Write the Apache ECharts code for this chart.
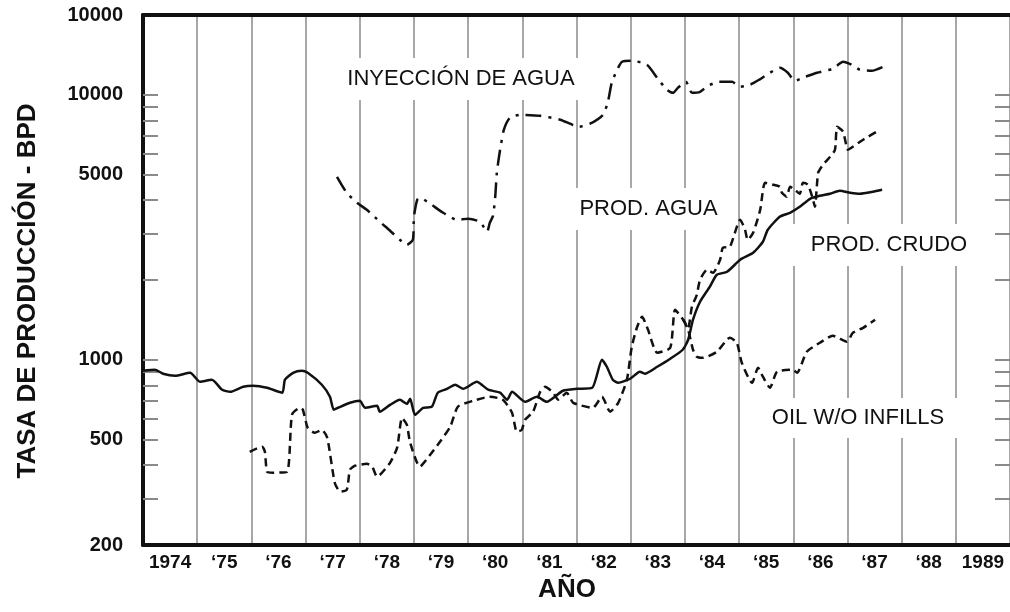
<!DOCTYPE html>
<html>
<head>
<meta charset="utf-8">
<script src="https://cdn.jsdelivr.net/npm/echarts@6/dist/echarts.min.js"></script>
<style>
  html, body { margin: 0; padding: 0; background: #fff; }
  #chart { width: 1010px; height: 612px; }
</style>
</head>
<body>
<div id="chart"></div>
<script>
// años (etiquetas del eje x, una por banda)
const yearLabels = ['1974', '‘75', '‘76', '‘77', '‘78', '‘79', '‘80', '‘81', '‘82', '‘83', '‘84', '‘85', '‘86', '‘87', '‘88', '1989']

// marcas del eje y (escala logaritmica)
const yTickValues = [200, 500, 1000, 5000, 10000, 20000]
const yTickLabels = ['200', '500', '1000', '5000', '10000', '10000']
const yMinorTicks = [300, 400, 500, 600, 700, 800, 900, 1000, 2000, 3000, 4000, 5000, 6000, 7000, 8000, 9000, 10000]

// PROD. CRUDO  [año, BPD]
const crudo = [
    [1974.00, 909], [1974.22, 917], [1974.37, 886], [1974.59, 870], [1974.87, 893],
    [1975.05, 826], [1975.27, 841], [1975.46, 771], [1975.61, 757], [1975.85, 791],
    [1976.03, 798], [1976.29, 784], [1976.57, 751], [1976.62, 841], [1976.77, 893],
    [1976.93, 909], [1977.04, 893], [1977.30, 805], [1977.45, 725], [1977.52, 648],
    [1977.60, 659], [1977.82, 688], [1978.00, 700], [1978.10, 659], [1978.32, 671],
    [1978.37, 637], [1978.56, 676], [1978.74, 707], [1978.87, 682], [1978.93, 713],
    [1979.02, 620], [1979.17, 659], [1979.33, 665], [1979.44, 751], [1979.61, 777],
    [1979.76, 805], [1979.91, 777], [1980.16, 826], [1980.37, 771], [1980.59, 751],
    [1980.72, 707], [1980.81, 757], [1981.05, 694], [1981.27, 725], [1981.45, 694],
    [1981.75, 764], [1982.01, 777], [1982.29, 784], [1982.47, 1000], [1982.56, 941],
    [1982.67, 841], [1982.77, 819], [1982.99, 848], [1983.17, 901], [1983.26, 886],
    [1983.49, 941], [1983.73, 1009], [1983.96, 1091], [1984.06, 1190], [1984.15, 1416],
    [1984.28, 1656], [1984.46, 1886], [1984.59, 2094], [1984.78, 2148], [1985.02, 2384],
    [1985.26, 2534], [1985.44, 2788], [1985.53, 3094], [1985.75, 3464], [1985.94, 3586],
    [1986.12, 3779], [1986.31, 4050], [1986.49, 4157], [1986.68, 4231], [1986.86, 4343],
    [1987.05, 4269], [1987.23, 4231], [1987.47, 4305], [1987.64, 4381]
]

// PROD. AGUA
const agua = [
    [1975.97, 449], [1976.20, 470], [1976.25, 449], [1976.29, 378], [1976.40, 375],
    [1976.66, 378], [1976.75, 620], [1976.90, 659], [1976.95, 648], [1977.04, 554],
    [1977.17, 530], [1977.30, 544], [1977.40, 508], [1977.54, 343], [1977.64, 318],
    [1977.76, 323], [1977.82, 385], [1977.91, 398], [1978.13, 405], [1978.23, 395],
    [1978.32, 362], [1978.56, 409], [1978.69, 466], [1978.78, 604], [1978.87, 568],
    [1978.93, 486], [1979.11, 395], [1979.30, 438], [1979.44, 478], [1979.67, 559],
    [1979.81, 665], [1980.09, 700], [1980.40, 725], [1980.64, 707], [1980.81, 631],
    [1980.90, 535], [1980.99, 544], [1981.05, 594], [1981.20, 637], [1981.33, 757],
    [1981.42, 791], [1981.57, 751], [1981.66, 707], [1981.82, 751], [1981.94, 688],
    [1982.30, 659], [1982.47, 725], [1982.62, 637], [1982.77, 688], [1982.93, 841],
    [1983.02, 1119], [1983.12, 1332], [1983.21, 1453], [1983.32, 1298], [1983.49, 1063],
    [1983.73, 1110], [1983.82, 1544], [1983.97, 1416], [1984.06, 1320], [1984.13, 1585],
    [1984.22, 1759], [1984.28, 2004], [1984.41, 2186], [1984.52, 2130], [1984.65, 2384],
    [1984.70, 2646], [1984.83, 2669], [1985.02, 3375], [1985.11, 3094], [1985.16, 2837],
    [1985.26, 3014], [1985.39, 3681], [1985.48, 4655], [1985.63, 4576], [1985.75, 4497],
    [1985.79, 4269], [1985.88, 4122], [1985.94, 4497], [1986.03, 4381], [1986.12, 4231],
    [1986.18, 4655], [1986.27, 4576], [1986.35, 4122], [1986.40, 3779], [1986.46, 5078],
    [1986.55, 5441], [1986.68, 5834], [1986.77, 6200], [1986.81, 7573], [1986.92, 7252],
    [1987.01, 6200], [1987.10, 6367], [1987.29, 6765], [1987.60, 7380]
]

// OIL W/O INFILLS
const sinInfill = [
    [1983.97, 1416], [1984.06, 1298], [1984.15, 1091], [1984.22, 1026], [1984.33, 1017],
    [1984.59, 1072], [1984.83, 1211], [1984.96, 1159], [1985.05, 974], [1985.24, 819],
    [1985.35, 933], [1985.44, 863], [1985.57, 784], [1985.70, 901], [1985.99, 917],
    [1986.07, 893], [1986.25, 1072], [1986.49, 1159], [1986.73, 1232], [1986.99, 1169],
    [1987.10, 1264], [1987.29, 1320], [1987.51, 1416]
]

// INYECCIÓN DE AGUA
const inyeccion = [
    [1977.58, 4904], [1977.76, 4268], [1977.95, 3913], [1978.13, 3681], [1978.37, 3318],
    [1978.56, 3068], [1978.74, 2837], [1978.87, 2716], [1978.98, 2837], [1979.00, 3464],
    [1979.06, 4016], [1979.11, 4087], [1979.30, 3879], [1979.54, 3586], [1979.79, 3375],
    [1980.00, 3404], [1980.22, 3318], [1980.35, 3041], [1980.40, 3288], [1980.46, 3494],
    [1980.50, 4122], [1980.53, 5078], [1980.59, 6200], [1980.66, 7380], [1980.77, 8190],
    [1980.96, 8405], [1981.33, 8333], [1981.70, 8050], [1982.05, 7573], [1982.25, 7775],
    [1982.49, 8405], [1982.58, 9410], [1982.65, 11100], [1982.75, 12430], [1982.84, 13320],
    [1983.02, 13440], [1983.30, 12980], [1983.50, 11490], [1983.67, 10440], [1983.78, 10170],
    [1983.87, 10620], [1984.02, 11190], [1984.13, 10170], [1984.28, 10260], [1984.43, 10810],
    [1984.63, 11190], [1984.87, 11190], [1985.02, 10720], [1985.20, 10910], [1985.37, 11390],
    [1985.57, 12110], [1985.75, 12640], [1985.90, 12110], [1986.03, 11290], [1986.22, 11690],
    [1986.44, 12110], [1986.73, 12540], [1986.92, 13320], [1987.08, 12980], [1987.23, 12430],
    [1987.45, 12320], [1987.66, 12760]
]

const font = 'Liberation Sans, Arial, sans-serif'
const ink = '#111'

// eje y en log10
const toLog = arr => arr.map(p => [p[0], Math.log10(p[1])])

const lineSeries = (name, data, type, width) => ({
    name: name,
    type: 'line',
    xAxisIndex: 1,
    data: toLog(data),
    showSymbol: false,
    smooth: 0.2,
    lineStyle: { color: ink, width: width, type: type },
    z: 3,
})

// etiquetas en el grafico con fondo blanco
const notes = [
    { text: 'INYECCIÓN DE AGUA', x: 322, y: 58, w: 278, h: 42 },
    { text: 'PROD. AGUA', x: 560, y: 188, w: 177, h: 42 },
    { text: 'PROD. CRUDO', x: 788, y: 224, w: 202, h: 42 },
    { text: 'OIL W/O INFILLS', x: 748, y: 398, w: 220, h: 40 },
]
const noteGraphics = []
notes.forEach(n => {
    noteGraphics.push({ type: 'rect', z: 1, shape: { x: n.x, y: n.y, width: n.w, height: n.h }, style: { fill: '#fff' } })
    noteGraphics.push({
        type: 'text', z: 1, x: n.x + n.w / 2, y: n.y + n.h / 2,
        style: { text: n.text, fill: ink, font: '22px ' + font, textAlign: 'center', textVerticalAlign: 'middle' },
    })
})

const myChart = echarts.init(document.getElementById('chart'))
myChart.setOption({
    animation: false,
    backgroundColor: '#fff',
    grid: { left: 143, top: 15, right: -3, bottom: 67 },
    xAxis: [
        {
            type: 'category',
            data: yearLabels,
            boundaryGap: true,
            position: 'bottom',
            axisLine: { lineStyle: { color: ink, width: 4 } },
            axisTick: { show: false },
            axisLabel: { color: ink, fontFamily: font, fontWeight: 'bold', fontSize: 19, margin: 8, interval: 0 },
            splitLine: { show: true, interval: 0, lineStyle: { color: '#a8a8a8', width: 2 } },
        },
        {
            type: 'value',
            min: 1974,
            max: 1990,
            position: 'top',
            axisLine: { show: true, lineStyle: { color: ink, width: 4 } },
            axisTick: { show: false },
            axisLabel: { show: false },
            splitLine: { show: false },
        },
    ],
    yAxis: [
        {
            type: 'value',
            min: Math.log10(200),
            max: Math.log10(20000),
            position: 'left',
            axisLine: { show: true, lineStyle: { color: ink, width: 4 } },
            axisTick: {
                show: true, inside: true, length: 15,
                customValues: yMinorTicks.map(v => Math.log10(v)),
                lineStyle: { color: '#8a8a8a', width: 2 },
            },
            axisLabel: {
                color: ink, fontFamily: font, fontWeight: 'bold', fontSize: 20, margin: 20,
                customValues: yTickValues.map(v => Math.log10(v)),
                formatter: v => {
                    const i = yTickValues.findIndex(t => Math.abs(Math.log10(t) - v) < 1e-6)
                    return i >= 0 ? yTickLabels[i] : ''
                },
            },
            splitLine: { show: false },
        },
        {
            type: 'value',
            min: Math.log10(200),
            max: Math.log10(20000),
            position: 'right',
            axisLine: { show: false },
            axisTick: {
                show: true, inside: true, length: 15,
                customValues: yMinorTicks.map(v => Math.log10(v)),
                lineStyle: { color: '#8a8a8a', width: 2 },
            },
            axisLabel: { show: false },
            splitLine: { show: false },
        },
    ],
    graphic: noteGraphics.concat([
        {
            type: 'text', x: 28, y: 291, rotation: Math.PI / 2,
            style: { text: 'TASA DE PRODUCCIÓN - BPD', fill: ink, font: 'bold 26px ' + font, textAlign: 'center', textVerticalAlign: 'middle' },
        },
        {
            type: 'text', x: 567, y: 590,
            style: { text: 'AÑO', fill: ink, font: 'bold 26px ' + font, textAlign: 'center', textVerticalAlign: 'middle' },
        },
    ]),
    series: [
        lineSeries('PROD. CRUDO', crudo, 'solid', 2.5),
        lineSeries('PROD. AGUA', agua, [8, 5], 2.5),
        lineSeries('OIL W/O INFILLS', sinInfill, [8, 5], 2.5),
        lineSeries('INYECCIÓN DE AGUA', inyeccion, [16, 7, 3, 7], 2.5),
    ],
})
</script>
</body>
</html>
